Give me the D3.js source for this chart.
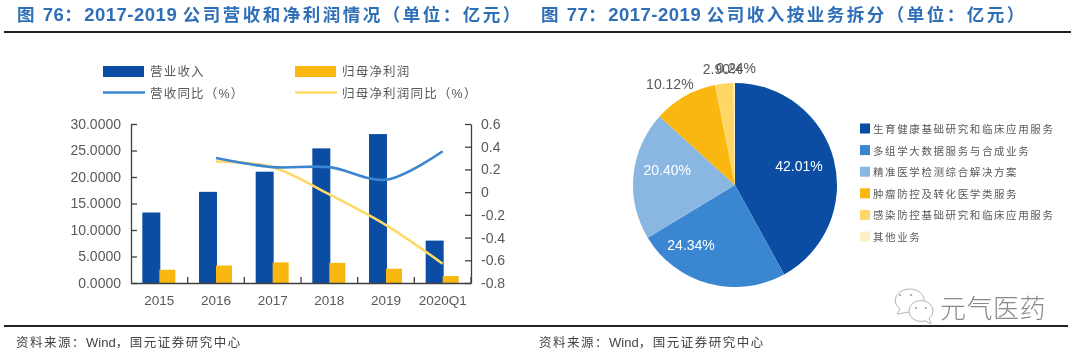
<!DOCTYPE html>
<html>

<head>
    <meta charset="utf-8">
    <title>图76 图77</title>
    <script src="https://d3js.org/d3.v7.min.js"></script>
    <style>
        body { margin: 0; background: #fff; }
        svg { display: block; filter: blur(0.35px); }
        text { font-family: "Liberation Sans", "Noto Sans CJK SC", sans-serif; }
    </style>
</head>

<body>
    <div id="chart"></div>
    <script>
        // data
        var years = ["2015", "2016", "2017", "2018", "2019", "2020Q1"];
        var revenue = [13.3, 17.2, 21.0, 25.4, 28.1, 8.0];
        var netProfit = [2.5, 3.3, 3.9, 3.8, 2.7, 1.3];
        var revenueYoy = [null, 0.30, 0.22, 0.22, 0.11, 0.36];
        var profitYoy = [null, 0.27, 0.22, -0.02, -0.29, -0.63];
        var leftTicks = [0, 5, 10, 15, 20, 25, 30];
        var rightTicks = [-0.8, -0.6, -0.4, -0.2, 0, 0.2, 0.4, 0.6];
        var barLegend = ["营业收入", "归母净利润"];
        var lineLegend = ["营收同比（%）", "归母净利润同比（%）"];

        var pieNames = ["生育健康基础研究和临床应用服务", "多组学大数据服务与合成业务", "精准医学检测综合解决方案", "肿瘤防控及转化医学类服务", "感染防控基础研究和临床应用服务", "其他业务"];
        var pieValues = [42.01, 24.34, 20.40, 10.12, 2.90, 0.24];
        var pieColors = ["#0b4da2", "#3a86d0", "#8ab6e2", "#fab70f", "#ffd766", "#fff0c8"];

        var blue = "#2f6fb7", dark = "#404040", grey = "#595959";

        var svg = d3.select("#chart").append("svg")
            .attr("width", 1080)
            .attr("height", 355);

        // latin and chinese runs need different sizes to get the width of the original
        function mixedText(px, py, str, fill, latin, cjk, weight) {
            var t = svg.append("text").attr("x", px).attr("y", py).attr("fill", fill).style("font-weight", weight);
            str.match(/[\x20-\x7e]+|[^\x20-\x7e]+/g).forEach(function (run) {
                var s = /^[\x20-\x7e]/.test(run) ? latin : cjk;
                t.append("tspan").attr("xml:space", "preserve")
                    .style("font-size", s[0] + "px").style("letter-spacing", s[1] + "px")
                    .style("white-space", "pre").text(run);
            });
        }

        // titles and rules
        mixedText(17, 21, "图 76：2017-2019 公司营收和净利润情况（单位：亿元）", blue, [18.5, 0.5], [17.5, 2.5], "bold");
        mixedText(541, 21, "图 77：2017-2019 公司收入按业务拆分（单位：亿元）", blue, [18.5, 0.5], [17.5, 2.5], "bold");
        svg.append("rect").attr("x", 4).attr("y", 31).attr("width", 1067).attr("height", 2).attr("fill", "#222");
        svg.append("rect").attr("x", 4).attr("y", 325).attr("width", 1064).attr("height", 2).attr("fill", "#222");
        mixedText(16, 347, "资料来源：Wind，国元证券研究中心", "#444", [13, 0], [12.5, 1.5], "normal");
        mixedText(539, 347, "资料来源：Wind，国元证券研究中心", "#444", [13, 0], [12.5, 1.5], "normal");

        // combo chart
        var plot = { left: 131, right: 471, top: 124, bottom: 283 };

        var x = d3.scaleBand().domain(years).range([plot.left, plot.right]);
        var inner = d3.scaleBand().domain([0, 1]).range([x.bandwidth() / 2 - 17, x.bandwidth() / 2 + 17]);
        var yLeft = d3.scaleLinear().domain([0, 30]).range([plot.bottom, plot.top]);
        var yRight = d3.scaleLinear().domain([-0.8, 0.6]).range([plot.bottom, plot.top]);

        svg.append("g").selectAll("rect").data(revenue).enter().append("rect")
            .attr("x", function (d, i) { return x(years[i]) + inner(0); })
            .attr("y", function (d) { return yLeft(d); })
            .attr("width", inner.bandwidth() + 1)
            .attr("height", function (d) { return plot.bottom - yLeft(d); })
            .attr("fill", pieColors[0]);
        svg.append("g").selectAll("rect").data(netProfit).enter().append("rect")
            .attr("x", function (d, i) { return x(years[i]) + inner(1); })
            .attr("y", function (d) { return yLeft(d); })
            .attr("width", inner.bandwidth() - 1)
            .attr("height", function (d) { return plot.bottom - yLeft(d); })
            .attr("fill", pieColors[3]);

        var line = d3.line()
            .defined(function (d) { return d !== null; })
            .x(function (d, i) { return x(years[i]) + x.bandwidth() / 2; })
            .y(function (d) { return yRight(d); })
            .curve(d3.curveCatmullRom.alpha(0.5));

        svg.append("path").attr("d", line(profitYoy)).attr("fill", "none").attr("stroke", "#ffd966").attr("stroke-width", 2.6);
        svg.append("path").attr("d", line(revenueYoy)).attr("fill", "none").attr("stroke", "#3a86d0").attr("stroke-width", 2.6);

        // axes
        function styleAxis(g) {
            g.selectAll("path,line").attr("stroke", dark).attr("stroke-width", 1.3);
            g.selectAll("text").attr("fill", grey).style("font-size", "14px");
        }
        svg.append("g")
            .attr("transform", "translate(" + plot.left + ",0)")
            .call(d3.axisRight(yLeft).tickValues(leftTicks).tickSize(6).tickSizeOuter(0).tickFormat(function (d) { return d3.format(".4f")(d); }))
            .call(styleAxis)
            .call(function (g) {
                g.selectAll("text").attr("x", -10).attr("text-anchor", "end");
            });
        svg.append("g")
            .attr("transform", "translate(" + plot.right + ",0)")
            .call(d3.axisLeft(yRight).tickValues(rightTicks).tickSize(6).tickSizeOuter(0).tickFormat(function (d) { return d === 0 ? "0" : d3.format(".1f")(d).replace("−", "-"); }))
            .call(styleAxis)
            .call(function (g) {
                g.selectAll("text").attr("x", 10).attr("text-anchor", "start");
            });
        svg.append("g")
            .attr("transform", "translate(0," + plot.bottom + ")")
            .call(d3.axisTop(x).tickSize(6).tickSizeOuter(0))
            .call(styleAxis)
            .call(function (g) {
                // ticks sit between the categories, labels under the axis
                g.selectAll(".tick line").attr("x1", x.bandwidth() / 2).attr("x2", x.bandwidth() / 2);
                g.selectAll("text").attr("y", 22).attr("dy", 0).attr("text-anchor", "middle").style("font-size", "13.5px");
            });

        // legend of the combo chart
        var legendX = [103, 295];
        barLegend.forEach(function (name, i) {
            svg.append("rect").attr("x", legendX[i]).attr("y", 66).attr("width", 41).attr("height", 11).attr("fill", i === 0 ? pieColors[0] : pieColors[3]);
            svg.append("text").attr("x", legendX[i] + 47).attr("y", 76).attr("fill", grey).style("font-size", "12.5px").style("letter-spacing", "1.2px").text(name);
        });
        lineLegend.forEach(function (name, i) {
            svg.append("line").attr("x1", legendX[i]).attr("x2", legendX[i] + 42).attr("y1", 92.5).attr("y2", 92.5).attr("stroke", i === 0 ? "#3a86d0" : "#ffd966").attr("stroke-width", 2.6);
            svg.append("text").attr("x", legendX[i] + 47).attr("y", 98).attr("fill", grey).style("font-size", "12.5px").style("letter-spacing", "1.2px").text(name);
        });

        // pie
        var pieG = svg.append("g").attr("transform", "translate(735,185)");
        var radius = 102;
        var arcs = d3.pie().sort(null)(pieValues);
        var arc = d3.arc().innerRadius(0).outerRadius(radius);
        pieG.selectAll("path").data(arcs).enter().append("path")
            .attr("d", arc)
            .attr("fill", function (d, i) { return pieColors[i]; });

        // labels: inside for the three big slices, outside for the rest (the last two collide, as in the original)
        var labelRadius = [66, 73, 68, 116, 117, 117];
        var labelShift = [[0, -3], [-25, -11], [0, -8], [-8, 0], [0, 0], [2, 0]];
        pieG.selectAll("text").data(arcs).enter().append("text")
            .attr("transform", function (d, i) {
                var r = labelRadius[i];
                var c = d3.arc().innerRadius(r).outerRadius(r).centroid(d);
                return "translate(" + (c[0] + labelShift[i][0]) + "," + (c[1] + labelShift[i][1] + 5) + ")";
            })
            .attr("text-anchor", "middle")
            .attr("fill", function (d, i) { return i < 3 ? "#fff" : grey; })
            .style("font-size", "14px")
            .text(function (d, i) { return d3.format(".2f")(pieValues[i]) + "%"; });

        // legend of the pie
        pieNames.forEach(function (name, i) {
            var ly = 123.5 + i * 21.6;
            svg.append("rect").attr("x", 860).attr("y", ly).attr("width", 10).attr("height", 10).attr("fill", pieColors[i]);
            svg.append("text").attr("x", 873).attr("y", ly + 9.5).attr("fill", grey).style("font-size", "10.5px").style("letter-spacing", "1.6px").text(name);
        });

        // watermark
        var mark = svg.append("g").attr("fill", "#fff").attr("stroke", "#b5b5b5").attr("stroke-width", 1);
        mark.append("path").attr("d", "M897,314 L900,309 A14.5,11.5 0 1 1 910,312 Z");
        mark.append("ellipse").attr("cx", 921).attr("cy", 311).attr("rx", 12).attr("ry", 10.5);
        mark.append("path").attr("d", "M925,321 L931,324 L929,318");
        svg.append("g").attr("fill", "#999").selectAll("circle")
            .data([[900, 295], [911, 295], [916, 308], [926, 308]]).enter().append("circle")
            .attr("cx", function (d) { return d[0]; }).attr("cy", function (d) { return d[1]; }).attr("r", 1);
        svg.append("text").attr("x", 940).attr("y", 318).attr("fill", "#8a8a8a")
            .style("font-size", "26px").style("font-weight", "300").style("letter-spacing", "0.5px").text("元气医药");
    </script>
</body>

</html>
